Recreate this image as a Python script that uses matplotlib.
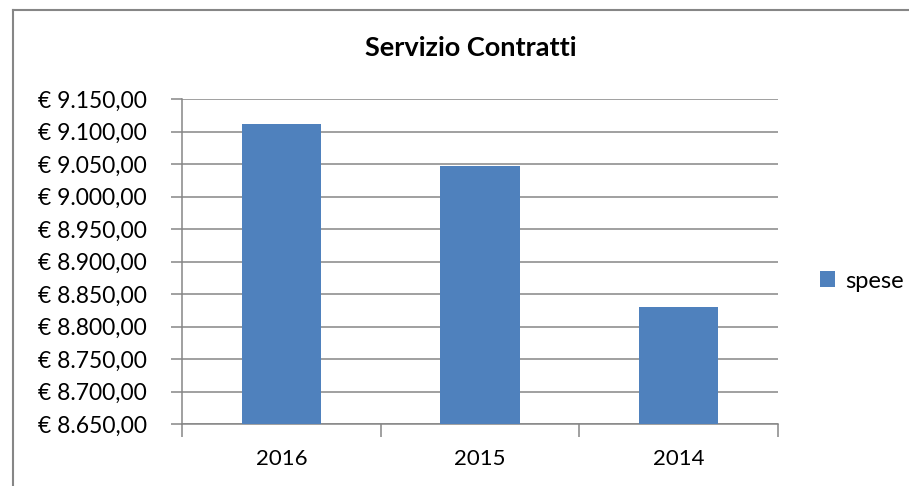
import matplotlib
matplotlib.use("Agg")
import matplotlib.pyplot as plt
from matplotlib.ticker import FuncFormatter, MultipleLocator
from matplotlib.lines import Line2D

categories = ["2016", "2015", "2014"]
spese = [9112.0, 9047.0, 8830.0]
series_name = "spese"
title = "Servizio Contratti"

plt.rcParams['font.family'] = ['Lato', 'DejaVu Sans']

W, H = 909, 486
fig = plt.figure(figsize=(W / 100, H / 100), dpi=100)
ax = fig.add_axes([182 / W, 1 - 424 / H, (778 - 182) / W, (424 - 99.3) / H])

grid_c = "#868686"
bar_c = "#4F81BD"

x = range(len(categories))
ax.bar(x, spese, width=0.4, color=bar_c, label=series_name, zorder=3)
ax.set_xlim(-0.5, len(categories) - 0.5)
ax.set_ylim(8650, 9150)
ax.yaxis.set_major_locator(MultipleLocator(50))

def eur(v, pos):
    s = f"{v:,.2f}"
    s = s.replace(",", "X").replace(".", ",").replace("X", ".")
    return "€ " + s

ax.yaxis.set_major_formatter(FuncFormatter(eur))
ax.set_xticks([-0.5, 0.5, 1.5, 2.5])
ax.set_xticklabels([])
ax.set_xticks(list(x), minor=True)
ax.set_xticklabels(categories, minor=True)
ax.tick_params(axis='x', which='minor', length=0, pad=18, labelsize=16)
ax.tick_params(axis='x', which='major', length=9, width=1.1, color=grid_c, direction='out')
ax.tick_params(axis='y', length=8, width=1.1, color=grid_c, pad=17.5, labelsize=16.5)

ax.grid(axis='y', color=grid_c, linewidth=1.1, zorder=0)
for side in ['top', 'right']:
    ax.spines[side].set_visible(False)
for side in ['left', 'bottom']:
    ax.spines[side].set_color(grid_c)
    ax.spines[side].set_linewidth(1.1)

fig.text(471 / W, 1 - 48 / H, title, ha='center', va='center', fontsize=19.5, fontweight='bold')

leg = fig.legend(loc='center left', bbox_to_anchor=(820 / W, 1 - 281 / H), frameon=False,
                 fontsize=17, handlelength=0.65, handleheight=0.65, handletextpad=0.4,
                 borderpad=0, borderaxespad=0)

# outer chart border
fig.add_artist(Line2D([13 / W, 13 / W], [0, 1 - 10 / H], color=grid_c, linewidth=1.5))
fig.add_artist(Line2D([13 / W, 1], [1 - 10 / H, 1 - 10 / H], color=grid_c, linewidth=1.5))

fig.savefig("out.png", dpi=100)
